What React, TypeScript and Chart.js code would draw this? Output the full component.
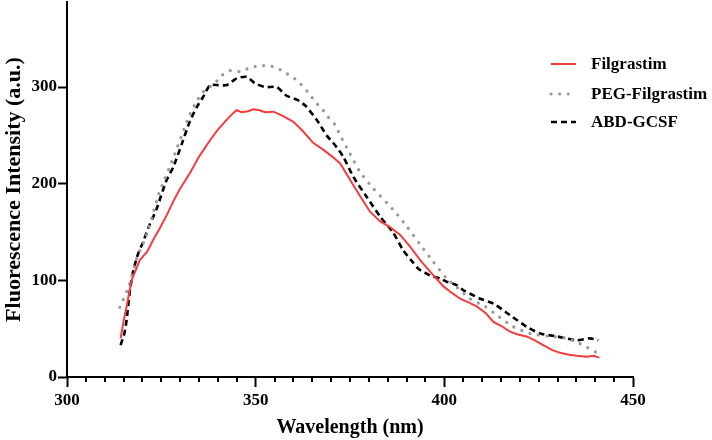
import React, { useEffect, useRef } from 'react';
import { Chart, registerables } from 'chart.js';

Chart.register(...registerables);

// ---- data ----
const seriesNames = ['Filgrastim', 'PEG-Filgrastim', 'ABD-GCSF'];

const filWl = [314.2, 315.0, 315.8, 317.1, 319.3, 321.3, 323.0, 324.6, 326.5, 328.2, 330.0, 332.6, 335.0, 337.9, 340.0, 342.3, 344.0, 345.0, 346.3, 348.0, 349.4, 351.0, 352.5, 354.7, 357.3, 360.0, 362.6, 365.3, 368.0, 370.6, 372.4, 375.0, 377.7, 380.3, 383.0, 385.6, 388.3, 390.9, 393.6, 396.7, 399.7, 402.0, 404.2, 406.5, 408.6, 411.0, 413.0, 415.0, 417.4, 419.5, 421.8, 424.0, 426.2, 428.5, 430.7, 433.0, 435.1, 437.7, 439.5, 441.1];
const filVal = [40, 58, 73, 100, 121, 130, 143, 154, 168, 182, 195, 211, 228, 245, 256, 266, 273, 276, 274, 275, 277, 276, 274, 274.5, 270, 264, 254, 242, 235, 227, 221, 204, 187, 171, 161, 155, 147, 135, 121, 107, 94, 87, 81, 77, 73, 66, 57, 53, 47, 44, 42, 38, 33, 28, 25, 23, 22, 21, 22, 20];

const pegWl = [314.0, 316.3, 318.5, 320.7, 322.5, 324.2, 325.1, 328.0, 332.1, 334.0, 336.1, 339.2, 341.0, 343.2, 345.9, 348.5, 351.0, 353.6, 356.0, 358.2, 360.9, 364.0, 365.7, 367.5, 369.2, 371.0, 372.4, 375.0, 377.7, 381.2, 384.8, 386.9, 390.0, 393.6, 397.1, 400.6, 403.3, 406.8, 410.8, 413.9, 418.3, 422.7, 428.0, 432.4, 436.8, 439.0, 440.5];
const pegVal = [72, 93, 123, 143, 165, 188, 197, 225, 267.5, 283, 295, 304, 312, 317, 316, 320, 322, 322, 319, 314, 307, 294, 285, 278, 269, 261, 250, 231, 212, 195, 180, 171, 156, 137, 119, 102, 93, 81, 73, 64, 52, 45, 42, 40, 33, 28, 25];

const abdWl = [314.2, 315.2, 315.8, 316.7, 317.6, 318.9, 320.2, 321.5, 323.8, 326.2, 328.2, 330.5, 332.6, 334.5, 336.1, 337.9, 340.1, 342.3, 345.0, 347.6, 349.8, 352.5, 355.6, 358.2, 360.9, 363.1, 366.2, 368.8, 371.0, 373.2, 375.9, 379.4, 383.0, 386.5, 389.1, 391.8, 393.1, 395.3, 397.1, 398.9, 400.6, 403.3, 405.0, 409.5, 413.0, 417.4, 421.8, 425.4, 429.8, 435.1, 438.6, 440.8];
const abdVal = [33, 45, 59, 90, 110.7, 128, 140, 153.8, 174.5, 202, 217.5, 242, 265, 280, 290, 302, 302, 302, 309, 310.6, 304, 300, 300, 291, 287, 281, 266, 250, 240, 228, 207, 186.5, 166, 149, 131, 118, 112, 107, 103.7, 102, 98.6, 95, 90, 81, 76, 64, 52, 45, 42, 38, 40, 38];

const xTickValues = [300, 350, 400, 450];
const yTickValues = [0, 100, 200, 300];
const xMinorStep = 5;

const FONT = '"Liberation Serif", "Times New Roman", serif';

export default function App() {
  const ref = useRef<HTMLCanvasElement>(null);

  useEffect(() => {
    if (!ref.current) return;
    const pts = (xs: number[], ys: number[]) => xs.map((x, i) => ({ x, y: ys[i] }));

    const minorTicks = {
      id: 'minorTicks',
      afterDraw(chart: any) {
        const sx = chart.scales.x;
        const ctx = chart.ctx;
        const y0 = chart.chartArea.bottom;
        ctx.save();
        ctx.strokeStyle = '#000';
        ctx.lineWidth = 2;
        for (let v = xTickValues[0]; v <= xTickValues[xTickValues.length - 1]; v += xMinorStep) {
          if (xTickValues.includes(v)) continue;
          const px = Math.round(sx.getPixelForValue(v));
          ctx.beginPath();
          ctx.moveTo(px, y0);
          ctx.lineTo(px, y0 + 5);
          ctx.stroke();
        }
        ctx.restore();
      },
    };

    const legend = {
      id: 'customLegend',
      afterDraw(chart: any) {
        const ctx = chart.ctx;
        const ys = [64, 94, 122];
        ctx.save();
        chart.data.datasets.forEach((ds: any, i: number) => {
          const y = ys[i];
          ctx.beginPath();
          ctx.strokeStyle = ds.borderColor;
          ctx.lineWidth = ds.borderWidth;
          ctx.lineCap = ds.borderCapStyle || 'butt';
          ctx.setLineDash(ds.borderDash || []);
          ctx.moveTo(551, y);
          ctx.lineTo(576, y);
          ctx.stroke();
          ctx.setLineDash([]);
          ctx.fillStyle = '#000';
          ctx.font = `bold 17px ${FONT}`;
          ctx.textBaseline = 'middle';
          ctx.textAlign = 'left';
          ctx.fillText(ds.label, 591, y + 1);
        });
        ctx.restore();
      },
    };

    const chart = new Chart(ref.current, {
      type: 'line',
      data: {
        datasets: [
          {
            label: seriesNames[0],
            data: pts(filWl, filVal),
            borderColor: 'rgb(245,60,60)',
            borderWidth: 2,
            pointRadius: 0,
            tension: 0,
            fill: false,
          },
          {
            label: seriesNames[1],
            data: pts(pegWl, pegVal),
            borderColor: '#9a9a9a',
            borderWidth: 3.2,
            borderDash: [0.1, 8.5],
            borderCapStyle: 'round',
            pointRadius: 0,
            tension: 0.2,
            fill: false,
          },
          {
            label: seriesNames[2],
            data: pts(abdWl, abdVal),
            borderColor: '#000',
            borderWidth: 2.6,
            borderDash: [6, 4],
            pointRadius: 0,
            tension: 0.2,
            fill: false,
          },
        ],
      },
      options: {
        responsive: false,
        animation: false,
        events: [],
        layout: { padding: { top: 2, right: 79, left: 0, bottom: 0 } },
        plugins: { legend: { display: false }, tooltip: { enabled: false } },
        scales: {
          x: {
            type: 'linear',
            min: 300,
            max: 450,
            afterFit: (s: any) => { s.height = 63; },
            afterBuildTicks: (s: any) => { s.ticks = xTickValues.map((v) => ({ value: v })); },
            ticks: {
              autoSkip: false,
              maxRotation: 0,
              padding: 3,
              color: '#000',
              font: { family: FONT, weight: 'bold', size: 17 },
            },
            grid: { display: true, drawOnChartArea: false, drawTicks: true, tickLength: 10, tickWidth: 2, tickColor: '#000' },
            border: { display: true, color: '#000', width: 2 },
            title: {
              display: true,
              text: 'Wavelength (nm)',
              color: '#000',
              font: { family: FONT, weight: 'bold', size: 20 },
              padding: { top: 0, bottom: 0 },
            },
          },
          y: {
            type: 'linear',
            min: 0,
            max: 388,
            afterFit: (s: any) => { s.width = 67; s.paddingTop = 0; s.paddingBottom = 0; },
            afterBuildTicks: (s: any) => { s.ticks = yTickValues.map((v) => ({ value: v })); },
            ticks: {
              autoSkip: false,
              padding: 1,
              color: '#000',
              font: { family: FONT, weight: 'bold', size: 17 },
            },
            grid: { display: true, drawOnChartArea: false, drawTicks: true, tickLength: 9, tickWidth: 2, tickColor: '#000' },
            border: { display: true, color: '#000', width: 2 },
            title: {
              display: true,
              text: 'Fluorescence Intensity (a.u.)',
              color: '#000',
              font: { family: FONT, weight: 'bold', size: 22 },
              padding: { top: 1, bottom: 0 },
            },
          },
        },
      },
      plugins: [minorTicks, legend],
    });

    return () => chart.destroy();
  }, []);

  return (
    <div style={{ position: 'absolute', left: 0, top: 0, width: 712, height: 440, background: '#fff' }}>
      <canvas ref={ref} width={712} height={440} style={{ display: 'block', width: 712, height: 440 }} />
    </div>
  );
}
